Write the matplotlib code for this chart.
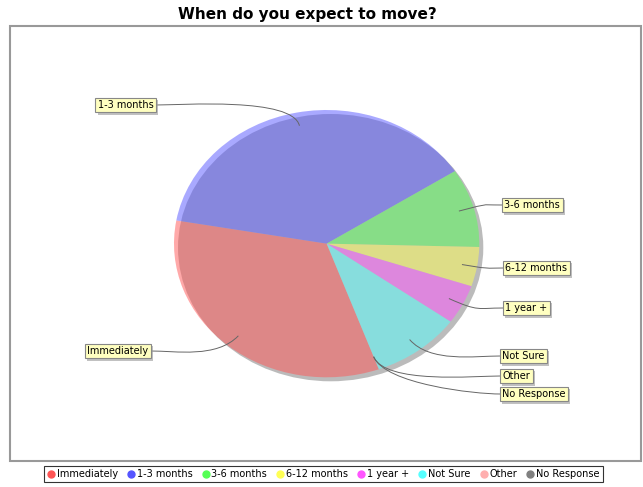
import matplotlib
matplotlib.use('Agg')
import matplotlib.pyplot as plt
import matplotlib.patheffects as pe
from matplotlib.patches import Ellipse, Rectangle, PathPatch
from matplotlib.path import Path
from matplotlib.lines import Line2D
import numpy as np

# Datos
categories = ['Immediately', '1-3 months', '3-6 months', '6-12 months',
              '1 year +', 'Not Sure', 'Other', 'No Response']
counts = [7, 8, 2, 1, 1, 2, 0, 0]
colors = ['#ff5555', '#5555ff', '#55ff55', '#ffff55',
          '#ff55ff', '#55ffff', '#ffafaf', '#808080']
title = 'When do you expect to move?'

# Posición de las etiquetas (borde de la caja en px, centro y, lado)
label_pos = {
    'Immediately': (151, 351, 'left'),
    '1-3 months': (156, 105, 'left'),
    '3-6 months': (502, 205, 'right'),
    '6-12 months': (503, 268, 'right'),
    '1 year +': (503, 308, 'right'),
    'Not Sure': (500, 356, 'right'),
    'Other': (500, 376, 'right'),
    'No Response': (500, 394, 'right'),
}

W, H = 643, 487
fig = plt.figure(figsize=(W / 100, H / 100), dpi=100, facecolor='white')

# Ejes de fondo en pixeles
ax_bg = fig.add_axes([0, 0, 1, 1], zorder=2)
ax_bg.set_xlim(0, W)
ax_bg.set_ylim(H, 0)
ax_bg.axis('off')

# Pie eliptico
px0, px1, py0, py1 = 174, 479.3, 110, 377.3
ax_pie = fig.add_axes([px0 / W, 1 - py1 / H, (px1 - px0) / W, (py1 - py0) / H], zorder=1)
shadow = Ellipse((4 * 2 / (px1 - px0), -4 * 2 / (py1 - py0)), 2, 2,
                 fc='#bbbbbb', ec='none', zorder=0, clip_on=False)
ax_pie.add_patch(shadow)
wedges, _ = ax_pie.pie(counts, colors=colors, startangle=-70, counterclock=False,
                       radius=1, center=(0, 0),
                       wedgeprops=dict(alpha=0.5, linewidth=0))
for w in wedges:
    w.set_clip_on(False)
ax_pie.set_xlim(-1, 1)
ax_pie.set_ylim(-1, 1)
ax_pie.set_aspect('auto')
ax_pie.axis('off')

# Marco del área del gráfico
ax_bg.add_patch(Rectangle((10, 26), 631, 435, fill=False, ec='#999999', lw=1.5))

fig.text(307 / W, 1 - 14 / H, title, ha='center', va='center',
         fontsize=11, fontweight='bold')


def to_bg(x, y):
    dx, dy = ax_pie.transData.transform((x, y))
    return dx, H - dy


# Etiquetas con líneas de enlace
total = sum(counts)
ang = -70.0
for cat, val in zip(categories, counts):
    span = 360.0 * val / total
    mid = np.deg2rad(ang - span / 2)
    ang -= span
    ax0, ay0 = to_bg(0.9 * np.cos(mid), 0.9 * np.sin(mid))
    ax1, ay1 = to_bg(1.12 * np.cos(mid), 1.12 * np.sin(mid))
    lx, ly, side = label_pos[cat]
    sgn = -1 if side == 'right' else 1
    p2 = (lx + sgn * 25, ly)
    path = Path([(ax0, ay0), (ax1, ay1), p2, (lx, ly)],
                [Path.MOVETO, Path.CURVE4, Path.CURVE4, Path.CURVE4])
    ax_bg.add_patch(PathPatch(path, fill=False, ec='#666666', lw=0.7))
    if side == 'right':
        t = ax_bg.text(lx + 2.4, ly, cat, ha='left', va='center', fontsize=7)
    else:
        t = ax_bg.text(lx - 2.4, ly, cat, ha='right', va='center', fontsize=7)
    t.set_bbox(dict(boxstyle='square,pad=0.25', fc='#ffffc0', ec='#888888', lw=0.8))
    t.get_bbox_patch().set_path_effects([
        pe.withSimplePatchShadow(offset=(1.5, -1.5), shadow_rgbFace='#999999', alpha=0.6)])

# Leyenda
handles = [Line2D([], [], marker='o', linestyle='', markerfacecolor=c,
                  markeredgecolor=c, markersize=5) for c in colors]
leg = fig.legend(handles, categories, loc='center',
                 bbox_to_anchor=(323.5 / W, 1 - 474 / H), ncol=8,
                 fancybox=False, edgecolor='black', fontsize=7,
                 handlelength=0.7, handletextpad=0.25, columnspacing=1.0,
                 borderpad=0.3, borderaxespad=0)
leg.get_frame().set_linewidth(0.8)

fig.savefig('out.png', dpi=100)
